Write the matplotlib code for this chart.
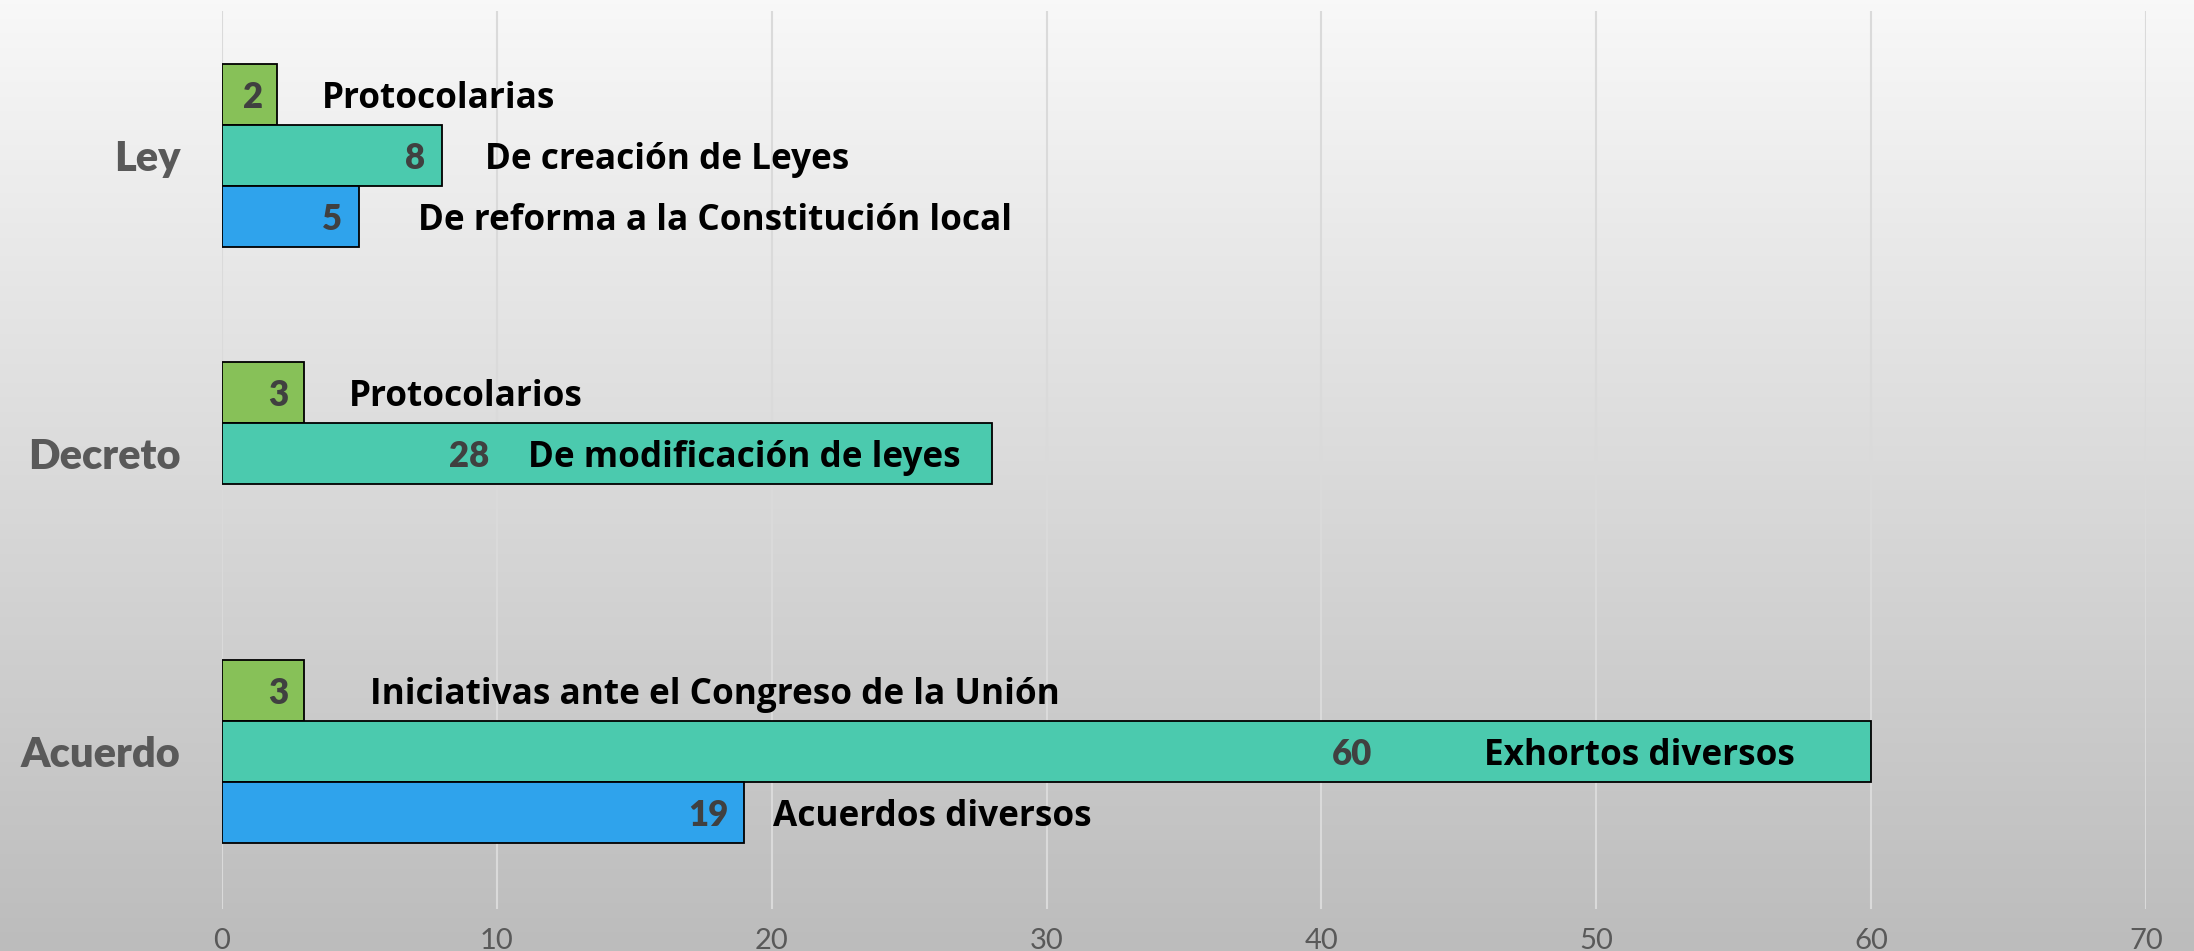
import numpy as np
import matplotlib
matplotlib.use("Agg")
import matplotlib.pyplot as plt

# ---- data ----
categories = ["Ley", "Decreto", "Acuerdo"]          # top to bottom
green_vals = [2, 3, 3]
teal_vals = [8, 28, 60]
blue_vals = [5, None, 19]
green_names = ["Protocolarias", "Protocolarios", "Iniciativas ante el Congreso de la Unión"]
teal_names = ["De creación de Leyes", "De modificación de leyes", "Exhortos diversos"]
blue_names = ["De reforma a la Constitución local", None, "Acuerdos diversos"]
xticks = [0, 10, 20, 30, 40, 50, 60, 70]

# ---- layout (label placement in data units) ----
green_num_x = [1.12, 2.04, 2.04]
teal_num_x = [7.03, 9.0, 41.1]
blue_num_x = [4.02, None, 17.7]
green_txt_x = [3.62, 4.63, 5.4]
teal_txt_x = [9.57, 11.15, 45.9]
blue_txt_x = [7.13, None, 20.06]

W, H = 2194, 951
fig = plt.figure(figsize=(W / 100, H / 100), dpi=100)

# background gradient
bg = fig.add_axes([0, 0, 1, 1], zorder=-10)
grad = np.linspace(248, 188, 256).reshape(-1, 1) / 255.0
bg.imshow(np.dstack([grad, grad, grad]), aspect="auto", extent=[0, 1, 0, 1])
bg.set_axis_off()

left, right, top, bottom = 222, 2146, 11, 909
ax = fig.add_axes([left / W, (H - bottom) / H, (right - left) / W, (bottom - top) / H])
ax.patch.set_alpha(0)

bh = 0.205
ypos = np.arange(len(categories))
series = [
    (green_vals, green_names, green_num_x, green_txt_x, "#87C158", -bh),
    (teal_vals, teal_names, teal_num_x, teal_txt_x, "#4BCAAE", 0.0),
    (blue_vals, blue_names, blue_num_x, blue_txt_x, "#2FA3EC", bh),
]

num_font = dict(family="Lato", fontweight="heavy", fontsize=25, color="#404040")
txt_font = dict(family=["Open Sans", "DejaVu Sans"], fontweight="bold", fontsize=25.3, color="black")

for vals, names, nx, tx, color, off in series:
    for i, v in enumerate(vals):
        if v is None:
            continue
        y = ypos[i] + off
        ax.barh(y, v, height=bh, color=color, edgecolor="black", linewidth=1.3, zorder=3)
        ax.text(nx[i], y, str(v), ha="center", va="center_baseline", zorder=4, **num_font)
        ax.text(tx[i], y, names[i], ha="left", va="center_baseline", zorder=4, **txt_font)

ax.set_xlim(0, 70)
ax.set_ylim(2.529, -0.484)
ax.set_xticks(xticks)
ax.set_xticklabels([str(t) for t in xticks], family="Lato", fontsize=21, color="#595959")
ax.set_yticks(ypos)
ax.set_yticklabels(categories, family="Lato", fontweight="heavy", fontsize=30, color="#595959")
ax.tick_params(axis="both", length=0)
ax.tick_params(axis="x", pad=14)
ax.tick_params(axis="y", pad=30)
ax.grid(axis="x", color="#dadada", linewidth=1.5, zorder=0)
ax.set_axisbelow(True)
for s in ax.spines.values():
    s.set_visible(False)

fig.savefig("out.png", dpi=100)
